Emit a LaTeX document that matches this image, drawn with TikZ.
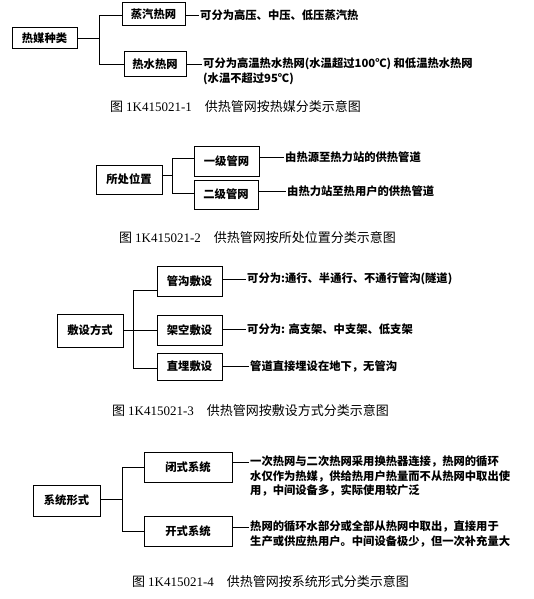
\documentclass[tikz,border=0pt]{standalone}
\usepackage{fontspec}
\setmainfont{Noto Sans CJK SC}
\newfontfamily\ser{Liberation Serif}
\begin{document}
\begin{tikzpicture}[x=1pt,y=-1pt,
  box/.style={draw,line width=1pt,inner sep=0pt,font=\fontsize{11.3}{13}\selectfont\bfseries},
  desc/.style={anchor=west,inner sep=1pt,font=\fontsize{11.3}{14}\selectfont\bfseries},
  mdesc/.style={anchor=north west,inner sep=1pt,align=left,font=\fontsize{11.3}{14.5}\selectfont\bfseries},
  captxt/.style={anchor=west,inner sep=0pt,font=\fontsize{13}{15}\selectfont},
  conn/.style={line width=0.8pt}]
\useasboundingbox[fill=white] (0,0) rectangle (533,599);

% ---------- Figure 1
\node[box,minimum width=65pt,minimum height=21pt] (r1) at (44.5,38.5) {热媒种类};
\node[box,minimum width=63pt,minimum height=23pt] (a1) at (153.5,14.5) {蒸汽热网};
\node[box,minimum width=62pt,minimum height=25pt] (a2) at (155,64.5) {热水热网};
\coordinate (j1t) at (99,15);
\coordinate (j1b) at (99,64);
\draw[conn] (r1.east) -- (r1.east -| j1t);
\draw[conn] (a1.west |- j1t) -- (j1t) -- (j1b) -- (a2.west |- j1b);
\node[desc] (t1a) at (199,15) {可分为高压、中压、低压蒸汽热};
\node[mdesc] (t1b) at (202,57) {可分为高温热水热网(水温超过100℃) 和低温热水热网\\(水温不超过95℃)};
\draw[conn] (a1.east |- t1a) -- (t1a.west);
\draw[conn] (a2.east) -- (a2.east -| t1b.west);
\node[captxt] (c1) at (110,107) {图 {\ser 1K415021-1}\quad 供热管网按热媒分类示意图};

% ---------- Figure 2
\node[box,minimum width=66pt,minimum height=29pt] (r2) at (129,179.5) {所处位置};
\node[box,minimum width=65pt,minimum height=30pt] (b1) at (226.5,161) {一级管网};
\node[box,minimum width=64pt,minimum height=29pt] (b2) at (226,194.5) {二级管网};
\coordinate (j2t) at (172,158);
\coordinate (j2b) at (172,193);
\coordinate (j2m) at (172,175);
\draw[conn] (r2.east |- j2m) -- (j2m);
\draw[conn] (b1.west |- j2t) -- (j2t) -- (j2b) -- (b2.west |- j2b);
\node[desc] (t2a) at (284,157) {由热源至热力站的供热管道};
\node[desc] (t2b) at (286,191) {由热力站至热用户的供热管道};
\draw[conn] (b1.east |- t2a) -- (t2a.west);
\draw[conn] (b2.east |- t2b) -- (t2b.west);
\node[captxt] (c2) at (119,238) {图 {\ser 1K415021-2}\quad 供热管网按所处位置分类示意图};

% ---------- Figure 3
\node[box,minimum width=66pt,minimum height=33pt] (r3) at (90,330.5) {敷设方式};
\node[box,minimum width=65pt,minimum height=30pt] (d1) at (189.5,281) {管沟敷设};
\node[box,minimum width=65pt,minimum height=30pt] (d2) at (189.5,330) {架空敷设};
\node[box,minimum width=65pt,minimum height=27pt] (d3) at (189.5,366.5) {直埋敷设};
\coordinate (j3t) at (133,290);
\coordinate (j3b) at (133,368);
\draw[conn] (r3.east |- d2) -- (d2.west);
\draw[conn] (d1.west |- j3t) -- (j3t) -- (j3b) -- (d3.west |- j3b);
\node[desc] (t3a) at (246,279) {可分为:通行、半通行、不通行管沟(隧道)};
\node[desc] (t3b) at (246,329) {可分为: 高支架、中支架、低支架};
\node[desc] (t3c) at (249,366) {管道直接埋设在地下，无管沟};
\draw[conn] (d1.east |- t3a) -- (t3a.west);
\draw[conn] (d2.east |- t3b) -- (t3b.west);
\draw[conn] (d3.east |- t3c) -- (t3c.west);
\node[captxt] (c3) at (112,411) {图 {\ser 1K415021-3}\quad 供热管网按敷设方式分类示意图};

% ---------- Figure 4
\node[box,minimum width=67pt,minimum height=31pt] (r4) at (66.5,500.5) {系统形式};
\node[box,minimum width=88pt,minimum height=30pt] (e1) at (188,467) {闭式系统};
\node[box,minimum width=88pt,minimum height=30pt] (e2) at (188,531) {开式系统};
\coordinate (j4t) at (122,467);
\coordinate (j4b) at (122,531);
\coordinate (j4m) at (122,499);
\draw[conn] (r4.east |- j4m) -- (j4m);
\draw[conn] (e1.west) -- (j4t) -- (j4b) -- (e2.west);
\node[mdesc] (t4a) at (249,455) {一次热网与二次热网采用换热器连接，热网的循环\\水仅作为热媒，供给热用户热量而不从热网中取出使\\用，中间设备多，实际使用较广泛};
\node[mdesc] (t4b) at (249,520) {热网的循环水部分或全部从热网中取出，直接用于\\生产或供应热用户。中间设备极少，但一次补充量大};
\coordinate (l4a) at (0,462);
\coordinate (l4b) at (0,527);
\draw[conn] (e1.east |- l4a) -- (t4a.west |- l4a);
\draw[conn] (e2.east |- l4b) -- (t4b.west |- l4b);
\node[captxt] (c4) at (132,582) {图 {\ser 1K415021-4}\quad 供热管网按系统形式分类示意图};
\end{tikzpicture}
\end{document}
